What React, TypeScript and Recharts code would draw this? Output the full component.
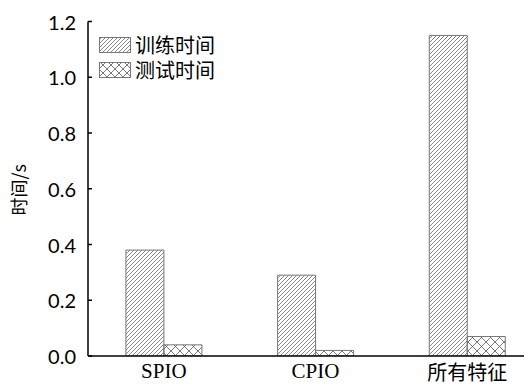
import { BarChart, Bar, XAxis, YAxis } from 'recharts'

const categories = ['SPIO', 'CPIO', '所有特征']
const trainTime = [0.38, 0.29, 1.15]
const testTime = [0.04, 0.02, 0.07]
const yTicks = [0, 0.2, 0.4, 0.6, 0.8, 1.0, 1.2]

const data = categories.map((name, i) => ({ name, train: trainTime[i], test: testTime[i] }))

const cjk = '"Noto Sans CJK SC", sans-serif'

function HatchDefs() {
  return (
    <defs>
      <pattern id="hatch" patternUnits="userSpaceOnUse" width="4" height="4">
        <path d="M-1,1 l2,-2 M0,4 l4,-4 M3,5 l2,-2" stroke="#555" strokeWidth="0.7" />
      </pattern>
      <pattern id="cross" patternUnits="userSpaceOnUse" width="9" height="9">
        <path d="M0,0 L9,9 M9,0 L0,9" stroke="#555" strokeWidth="0.8" />
      </pattern>
    </defs>
  )
}

function XTick({ x, payload }: any) {
  const latin = /^[A-Za-z]+$/.test(payload.value)
  return (
    <text
      x={x}
      y={371}
      textAnchor="middle"
      dominantBaseline="central"
      fill="#000"
      style={{ fontFamily: latin ? '"Liberation Serif", serif' : cjk, fontSize: latin ? 21 : 20 }}
    >
      {payload.value}
    </text>
  )
}

function YTick({ x, y, payload }: any) {
  return (
    <text x={x} y={y} textAnchor="end" dominantBaseline="central" fill="#000"
      style={{ fontFamily: 'Lato, sans-serif', fontSize: 20 }}>
      {payload.value.toFixed(1)}
    </text>
  )
}

function LegendBox() {
  const items = [
    { label: '训练时间', fill: 'url(#hatch2)' },
    { label: '测试时间', fill: 'url(#cross2)' },
  ]
  return (
    <div style={{ position: 'absolute', left: 99, top: 32 }}>
      <svg width={0} height={0} style={{ position: 'absolute' }}>
        <defs>
          <pattern id="hatch2" patternUnits="userSpaceOnUse" width="4" height="4">
            <path d="M-1,1 l2,-2 M0,4 l4,-4 M3,5 l2,-2" stroke="#555" strokeWidth="0.7" />
          </pattern>
          <pattern id="cross2" patternUnits="userSpaceOnUse" width="8" height="8">
            <path d="M0,0 L8,8 M8,0 L0,8" stroke="#555" strokeWidth="0.8" />
          </pattern>
        </defs>
      </svg>
      {items.map((it) => (
        <div key={it.label} style={{ display: 'flex', alignItems: 'center', height: 25 }}>
          <svg width={33} height={18} style={{ marginRight: 3 }}>
            <rect x={0.5} y={1.5} width={31} height={15} fill={it.fill} stroke="#777" />
          </svg>
          <span style={{ fontFamily: cjk, fontSize: 20, color: '#000', lineHeight: '22px' }}>{it.label}</span>
        </div>
      ))}
    </div>
  )
}

export default function App() {
  return (
    <div style={{ margin: '-8px -8px 0 -8px', width: 532, height: 384, overflow: 'hidden', position: 'relative', background: '#fff' }}>
      <BarChart
        width={543}
        height={384}
        data={data}
        margin={{ top: 21.5, right: 0, left: 0, bottom: 0 }}
        barCategoryGap="25%"
        barGap={0}
      >
        <HatchDefs />
        <XAxis
          dataKey="name"
          height={28}
          tickLine={false}
          axisLine={{ stroke: '#000', strokeWidth: 1.5 }}
          tick={<XTick />}
          interval={0}
        />
        <YAxis
          width={88}
          domain={[0, 1.2]}
          ticks={yTicks}
          allowDataOverflow
          axisLine={{ stroke: '#000', strokeWidth: 1.5 }}
          tickLine={{ stroke: '#000', strokeWidth: 1.5 }}
          tickSize={-4}
          tickMargin={16}
          tick={<YTick />}
          label={({ viewBox }: any) => (
            <text
              x={18}
              y={viewBox.y + viewBox.height / 2 + 1}
              transform={`rotate(-90 18 ${viewBox.y + viewBox.height / 2 + 1})`}
              textAnchor="middle"
              dominantBaseline="central"
              fill="#000"
              style={{ fontFamily: cjk, fontSize: 18 }}
            >
              时间/s
            </text>
          )}
        />
        <Bar dataKey="train" name="训练时间" fill="url(#hatch)" stroke="#777" strokeWidth={1} isAnimationActive={false} />
        <Bar dataKey="test" name="测试时间" fill="url(#cross)" stroke="#777" strokeWidth={1} isAnimationActive={false} />
      </BarChart>
      <LegendBox />
    </div>
  )
}
